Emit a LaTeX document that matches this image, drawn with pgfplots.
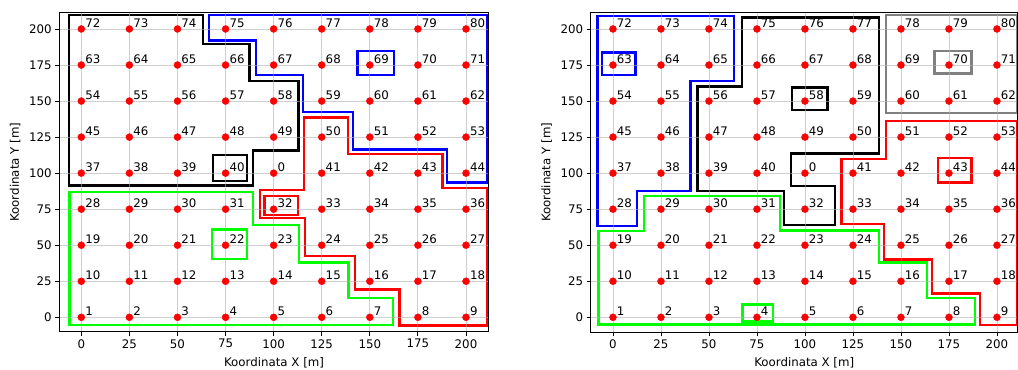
\documentclass[border=0pt]{standalone}
\usepackage{pgfplots}
\pgfplotsset{compat=1.18}
\usepackage{pgfplotstable}
\usepackage{fontspec}
\setmainfont{DejaVu Sans}
\definecolor{lime}{RGB}{0,255,0}
\definecolor{mplgray}{RGB}{128,128,128}
\definecolor{gridc}{RGB}{176,176,176}

\pgfplotstableread{
x y lab
0 0 1
25 0 2
50 0 3
75 0 4
100 0 5
125 0 6
150 0 7
175 0 8
200 0 9
0 25 10
25 25 11
50 25 12
75 25 13
100 25 14
125 25 15
150 25 16
175 25 17
200 25 18
0 50 19
25 50 20
50 50 21
75 50 22
100 50 23
125 50 24
150 50 25
175 50 26
200 50 27
0 75 28
25 75 29
50 75 30
75 75 31
100 75 32
125 75 33
150 75 34
175 75 35
200 75 36
0 100 37
25 100 38
50 100 39
75 100 40
100 100 0
125 100 41
150 100 42
175 100 43
200 100 44
0 125 45
25 125 46
50 125 47
75 125 48
100 125 49
125 125 50
150 125 51
175 125 52
200 125 53
0 150 54
25 150 55
50 150 56
75 150 57
100 150 58
125 150 59
150 150 60
175 150 61
200 150 62
0 175 63
25 175 64
50 175 65
75 175 66
100 175 67
125 175 68
150 175 69
175 175 70
200 175 71
0 200 72
25 200 73
50 200 74
75 200 75
100 200 76
125 200 77
150 200 78
175 200 79
200 200 80
}\pts

\newcommand{\mplfont}{\fontsize{11.85}{14}\selectfont}

\pgfplotsset{
  myax/.style={
    scale only axis, anchor=south west,
    xtick={0,25,...,200}, ytick={0,25,...,200},
    grid=major,
    grid style={gridc, line width=0.94bp, opacity=0.6},
    axis on top,
    tick align=outside,
    xtick pos=left, ytick pos=left,
    major tick length=4.1bp,
    axis line style={line width=0.94bp, black},
    tick style={line width=0.94bp, black},
    /pgf/number format/assume math mode=true,
    tick label style={font=\mplfont},
    label style={font=\mplfont},
    xlabel={Koordinata X [m]},
    ylabel={Koordinata Y [m]},
    xlabel style={at={(axis description cs:0.5,-0.097)}, anchor=center},
    poly/.style={line width=2.36bp, line join=miter},
  },
  pts/.style={only marks, mark=*, mark size=3.5bp, color=red,
    nodes near coords, point meta=explicit symbolic,
    every node near coord/.append style={anchor=base west, inner sep=0pt,
      xshift=3.8bp, yshift=1.3bp, font=\mplfont, text=black}},
}

\begin{document}
\begin{tikzpicture}
\useasboundingbox (0,0) rectangle (1018bp,370bp);

% ---------------- left panel ----------------
\begin{axis}[myax,
  at={(59.3bp,38.3bp)}, width=429.4bp, height=319bp,
  xmin=-11.44, xmax=211.8, ymin=-10, ymax=211.3,
  ylabel style={at={(axis description cs:-0.103,0.5)}, anchor=center},
]
% black
\addplot[poly, black] coordinates {(-6.4,209.5) (63.4,209.5) (63.4,189.8) (87.4,189.8) (87.4,163.9) (112.9,163.9) (112.9,115.6) (89.1,115.6) (89.1,91.5) (-6.4,91.5)} -- cycle;
\addplot[poly, black] coordinates {(68.6,94.5) (86.3,94.5) (86.3,112.6) (68.6,112.6)} -- cycle;
% blue
\addplot[poly, blue] coordinates {(66.5,209.7) (210.8,209.7) (210.8,93.4) (190,93.4) (190,116.5) (141.1,116.5) (141.1,142.6) (115.4,142.6) (115.4,168.1) (90.8,168.1) (90.8,192) (66.5,192)} -- cycle;
\addplot[poly, blue] coordinates {(143.5,168.1) (162.6,168.1) (162.6,184.7) (143.5,184.7)} -- cycle;
% red
\addplot[poly, red] coordinates {(115.8,138.5) (138.8,138.5) (138.8,113.3) (187.7,113.3) (187.7,89.5) (211.1,89.5) (211.1,-5.8) (165.4,-5.8) (165.4,19.4) (142.3,19.4) (142.3,42.5) (116.3,42.5) (116.3,68.7) (92.9,68.7) (92.9,88.3) (115.8,88.3)} -- cycle;
\addplot[poly, red] coordinates {(95.2,71) (112.5,71) (112.5,84.1) (95.2,84.1)} -- cycle;
% green
\addplot[poly, lime] coordinates {(-6.2,87.1) (89.4,87.1) (89.4,64) (113.1,64) (113.1,38.1) (139,38.1) (139,13.2) (161.9,13.2) (161.9,-5.5) (-6.2,-5.5)} -- cycle;
\addplot[poly, lime] coordinates {(67.8,40.4) (86.3,40.4) (86.3,61) (67.8,61)} -- cycle;
% points
\addplot[pts] table[x=x, y=y, meta=lab] {\pts};
\end{axis}

% ---------------- right panel ----------------
\begin{axis}[myax,
  at={(590.7bp,38bp)}, width=427bp, height=319.3bp,
  xmin=-11.6, xmax=210.8, ymin=-10.2, ymax=211.3,
  ylabel style={at={(axis description cs:-0.103,0.5)}, anchor=center},
]
% blue
\addplot[poly, blue] coordinates {(-8,209) (63,209) (63,164.1) (40.3,164.1) (40.3,87.8) (12.5,87.8) (12.5,63.3) (-8,63.3)} -- cycle;
\addplot[poly, blue] coordinates {(-5.7,167.9) (11.8,167.9) (11.8,183.8) (-5.7,183.8)} -- cycle;
% black
\addplot[poly, black] coordinates {(67.3,208) (138.7,208) (138.7,113.7) (92.7,113.7) (92.7,91.3) (115.6,91.3) (115.6,64) (89.1,64) (89.1,87.8) (44.1,87.8) (44.1,160) (67.3,160)} -- cycle;
\addplot[poly, black] coordinates {(93.4,143.8) (111.8,143.8) (111.8,159.3) (93.4,159.3)} -- cycle;
% gray
\addplot[poly, mplgray] coordinates {(142.2,141.9) (210.6,141.9) (210.6,209.5) (142.2,209.5)} -- cycle;
\addplot[poly, mplgray] coordinates {(167.5,169) (186.8,169) (186.8,184.7) (167.5,184.7)} -- cycle;
% red
\addplot[poly, red] coordinates {(142.2,136.2) (210.6,136.2) (210.6,-5.3) (191.1,-5.3) (191.1,16.6) (166,16.6) (166,40.2) (141.3,40.2) (141.3,64.5) (119.1,64.5) (119.1,109.6) (142.2,109.6)} -- cycle;
\addplot[poly, red] coordinates {(169.4,93.4) (186.8,93.4) (186.8,110.3) (169.4,110.3)} -- cycle;
% green
\addplot[poly, lime] coordinates {(-7.6,59.9) (16.1,59.9) (16.1,84.1) (87,84.1) (87,60.1) (138.5,60.1) (138.5,37.9) (163.4,37.9) (163.4,13.6) (188.5,13.6) (188.5,-4.9) (-7.6,-4.9)} -- cycle;
\addplot[poly, lime] coordinates {(67.5,-3) (83.2,-3) (83.2,9) (67.5,9)} -- cycle;
% points
\addplot[pts] table[x=x, y=y, meta=lab] {\pts};
\end{axis}
\end{tikzpicture}
\end{document}
